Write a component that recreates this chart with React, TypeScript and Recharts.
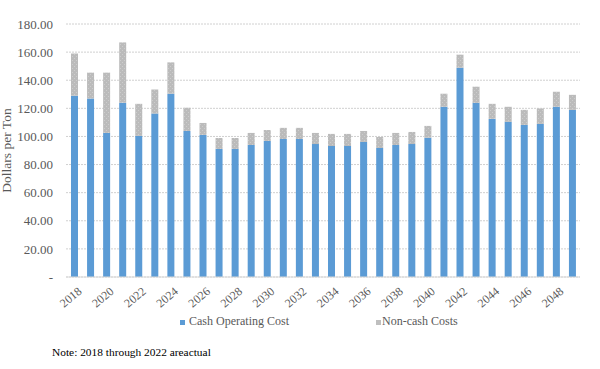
import { BarChart, Bar, XAxis, YAxis, CartesianGrid, Legend } from 'recharts';

const years = [
    2018, 2019, 2020, 2021, 2022, 2023, 2024, 2025, 2026, 2027, 2028, 2029, 2030, 2031, 2032, 2033,
    2034, 2035, 2036, 2037, 2038, 2039, 2040, 2041, 2042, 2043, 2044, 2045, 2046, 2047, 2048, 2049,
];
const cashOperatingCost = [
    129.0, 127.0, 102.5, 124.0, 100.4, 116.3, 130.4, 103.9, 101.1, 91.1, 91.1, 93.9, 96.8, 98.2, 98.2, 94.6,
    93.2, 93.2, 96.1, 91.8, 93.9, 94.6, 99.1, 121.1, 148.9, 123.9, 112.5, 110.4, 108.2, 108.9, 121.1, 118.9,
];
const nonCashCosts = [
    30.0, 18.4, 42.9, 42.9, 22.8, 17.1, 22.3, 16.5, 8.5, 7.8, 7.8, 8.6, 7.8, 7.9, 7.9, 7.9,
    8.6, 8.6, 7.8, 7.8, 8.6, 8.6, 8.4, 9.3, 9.3, 11.5, 10.7, 10.7, 10.7, 11.0, 10.7, 10.7,
];
const yTicks = [0, 20, 40, 60, 80, 100, 120, 140, 160, 180];

const data = years.map((y, i) => ({
    year: String(y),
    cash: cashOperatingCost[i],
    noncash: nonCashCosts[i],
}));

const FONT = "'Times New Roman', 'Liberation Serif', 'DejaVu Serif', serif";

const renderLegend = () => (
    <div style={{ position: 'relative', height: 20, fontFamily: FONT, fontSize: 12, color: '#595959' }}>
        <span style={{ position: 'absolute', left: 180, top: 7, width: 5, height: 5, background: '#5B9BD5' }} />
        <span style={{ position: 'absolute', left: 189, top: 1, whiteSpace: 'nowrap' }}>Cash Operating Cost</span>
        <span style={{ position: 'absolute', left: 376, top: 7, width: 5, height: 5, background: '#BFBFBF' }} />
        <span style={{ position: 'absolute', left: 382, top: 1, whiteSpace: 'nowrap' }}>Non-cash Costs</span>
    </div>
);

const App = () => {
    return (
        <div
            style={{
                position: 'absolute',
                left: 0,
                top: 0,
                width: 600,
                height: 369,
                background: 'white',
                fontFamily: FONT,
            }}>
            <BarChart
                width={600}
                height={369}
                data={data}
                margin={{ top: 24, right: 20, bottom: 42, left: 0 }}
                style={{ fontFamily: FONT }}>
                <defs>
                    <pattern id="dots" width="4" height="4" patternUnits="userSpaceOnUse">
                        <rect width="4" height="4" fill="#BBBBBB" />
                        <rect x="0" y="0" width="1" height="1" fill="#CDCDCD" />
                        <rect x="2" y="2" width="1" height="1" fill="#CDCDCD" />
                    </pattern>
                </defs>
                <CartesianGrid vertical={false} stroke="#D0D0D0" strokeDasharray="2 1" />
                <XAxis
                    dataKey="year"
                    interval={1}
                    tickLine={false}
                    axisLine={{ stroke: '#D9D9D9' }}
                    angle={-40}
                    textAnchor="end"
                    height={30}
                    tick={{ fill: '#595959', fontSize: 12, fontFamily: FONT, dx: 3, dy: 1 }}
                />
                <YAxis
                    width={66}
                    domain={[0, 180]}
                    ticks={yTicks}
                    tickLine={false}
                    axisLine={false}
                    tickMargin={7}
                    tickFormatter={(v) => (v === 0 ? '-' : Number(v).toFixed(2))}
                    tick={{ fill: '#595959', fontSize: 13, fontFamily: FONT }}
                    label={{
                        value: 'Dollars per Ton',
                        angle: -90,
                        position: 'insideLeft',
                        offset: 6,
                        style: { fill: '#595959', fontSize: 13.5, fontFamily: FONT, textAnchor: 'middle' },
                    }}
                />
                <Bar dataKey="cash" stackId="a" fill="#5B9BD5" barSize={7} isAnimationActive={false} />
                <Bar dataKey="noncash" stackId="a" fill="url(#dots)" barSize={7} isAnimationActive={false} />
                <Legend verticalAlign="bottom" content={renderLegend} wrapperStyle={{ left: 0, width: 600, bottom: 36 }} />
            </BarChart>
            <div
                style={{
                    position: 'absolute',
                    left: 52,
                    top: 346,
                    fontFamily: FONT,
                    fontSize: 11.4,
                    color: '#000',
                    whiteSpace: 'nowrap',
                }}>
                Note: 2018 through 2022 areactual
            </div>
        </div>
    );
};

export default App;
